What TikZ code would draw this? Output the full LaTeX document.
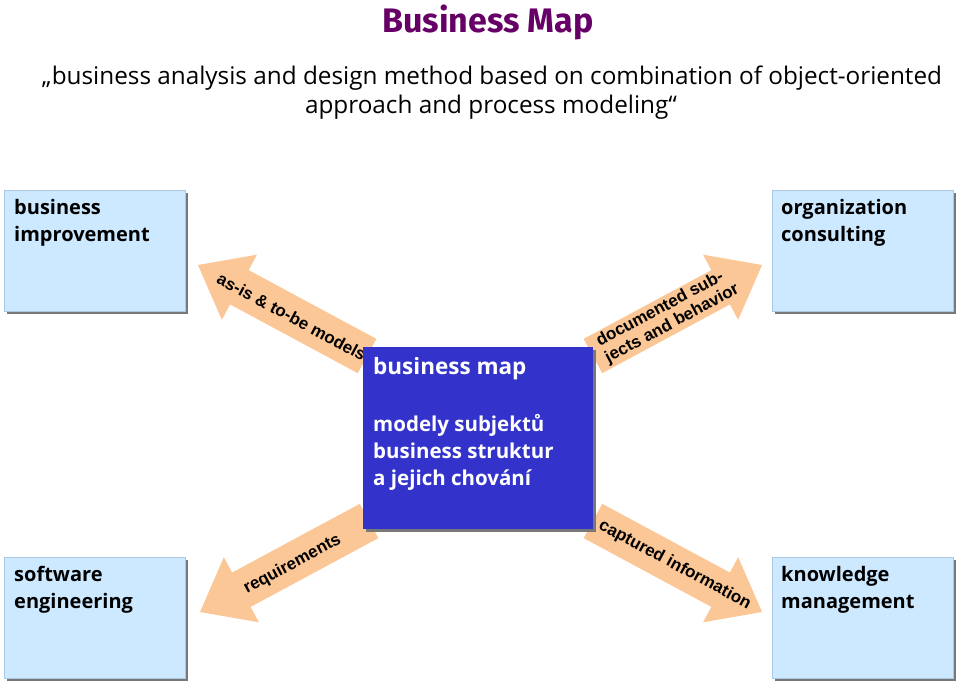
\documentclass[tikz,border=0pt]{standalone}
\usepackage{fontspec}
\setmainfont{Open Sans}
\newfontfamily\titlefont{Fira Sans}
\newfontfamily\arrowfont{Liberation Sans}
\definecolor{boxblue}{RGB}{204,233,255}
\definecolor{boxedge}{RGB}{170,200,225}
\definecolor{shadowgray}{RGB}{120,120,120}
\definecolor{mapblue}{RGB}{51,51,204}
\definecolor{peach}{RGB}{251,199,150}
\definecolor{titlepurple}{RGB}{102,0,102}
\begin{document}
\begin{tikzpicture}[x=1pt,y=1pt,
  lbox/.style={fill=boxblue, draw=boxedge, line width=0.4pt, minimum width=181, minimum height=121, anchor=north west, inner sep=0},
  boxshadow/.style={fill=shadowgray},
  mapbox/.style={fill=mapblue, minimum width=230, minimum height=182, anchor=north west, inner sep=0},
  lbl/.style={font=\fontsize{20}{27}\selectfont\bfseries, align=left, inner sep=0, anchor=north west, text=black},
  maptxt/.style={font=\fontsize{20.5}{27}\selectfont\bfseries, align=left, inner sep=0, anchor=north west, text=white},
  arrowlbl/.style={font=\arrowfont\bfseries\fontsize{17}{18.5}\selectfont, inner sep=0, text=black},
  subtxt/.style={font=\fontsize{24.3}{29}\selectfont, anchor=base},
  blockarrow/.style={fill=peach}
]
\useasboundingbox (0,0) rectangle (960,686);

% title and subtitle
\node[font=\titlefont\fontsize{34}{40}\selectfont\bfseries, text=titlepurple, anchor=base] (title) at (488,653) {Business Map};
\node[subtxt] (sub1) at (492,601) {„business analysis and design method based on combination of object-oriented};
\node[subtxt] (sub2) at (491,572) {approach and process modeling“};

% block arrows
\begin{scope}[shift={(198,421)}, rotate=-28.3]
  \fill[blockarrow] (0,0) -- (47,37) -- (47,19.5) -- (192,19.5) -- (192,-19.5) -- (47,-19.5) -- (47,-37) -- cycle;
  \node[arrowlbl, rotate=-28.3] (a1) at (107,-1) {as-is \& to-be models};
\end{scope}
\begin{scope}[shift={(762,421)}, rotate=208.3]
  \fill[blockarrow] (0,0) -- (47,37) -- (47,19.5) -- (192,19.5) -- (192,-19.5) -- (47,-19.5) -- (47,-37) -- cycle;
  \node[arrowlbl, rotate=28.3, align=left] (a2) at (107,0) {documented sub-\\jects and behavior};
\end{scope}
\begin{scope}[shift={(200,74)}, rotate=28.3]
  \fill[blockarrow] (0,0) -- (47,37) -- (47,19.5) -- (192,19.5) -- (192,-19.5) -- (47,-19.5) -- (47,-37) -- cycle;
  \node[arrowlbl, rotate=28.3] (a3) at (104,-2) {requirements};
\end{scope}
\begin{scope}[shift={(762,74)}, rotate=151.7]
  \fill[blockarrow] (0,0) -- (47,37) -- (47,19.5) -- (192,19.5) -- (192,-19.5) -- (47,-19.5) -- (47,-37) -- cycle;
  \node[arrowlbl, rotate=-28.3] (a4) at (99,0) {captured information};
\end{scope}

% light blue boxes with shadows
\fill[boxshadow] (7,372) rectangle (188,493);
\node[lbox] (bi) at (4,496) {};
\fill[boxshadow] (775,372) rectangle (956,493);
\node[lbox] (oc) at (772,496) {};
\fill[boxshadow] (7,5) rectangle (188,126);
\node[lbox] (se) at (4,129) {};
\fill[boxshadow] (775,5) rectangle (956,126);
\node[lbox] (km) at (772,129) {};

% centre box
\fill[boxshadow] (366,154) rectangle (596,336);
\node[mapbox] (bm) at (363,339) {};

% labels
\node[lbl] (bit) at ([xshift=10,yshift=-9]bi.north west) {business\\improvement};
\node[lbl] (oct) at ([xshift=9,yshift=-9]oc.north west) {organization\\consulting};
\node[lbl] (set) at ([xshift=10,yshift=-9]se.north west) {software\\engineering};
\node[lbl] (kmt) at ([xshift=9,yshift=-9]km.north west) {knowledge\\management};

\node[maptxt, font=\fontsize{22.5}{27}\selectfont\bfseries] (bmt) at ([xshift=10,yshift=-10]bm.north west) {business map};
\node[maptxt] (bmb) at ([xshift=10,yshift=-67]bm.north west) {modely subjektů\\business struktur\\a jejich chování};
\end{tikzpicture}
\end{document}
